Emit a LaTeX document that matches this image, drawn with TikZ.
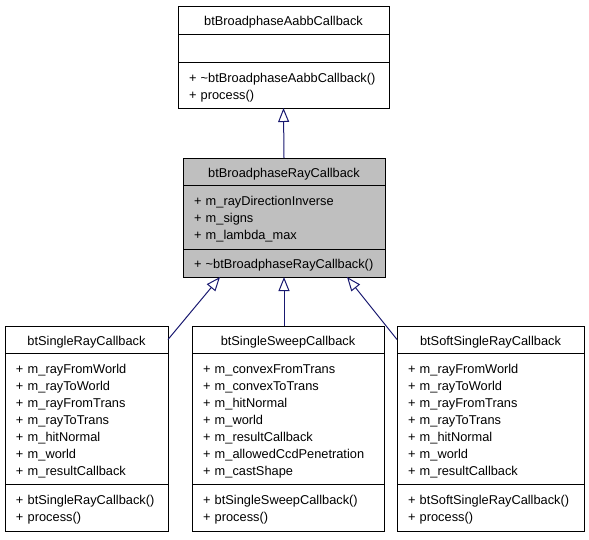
\documentclass[tikz,border=0pt]{standalone}
\usepackage{fontspec}
\setmainfont{Liberation Sans}
\usetikzlibrary{positioning,calc,arrows.meta}
\definecolor{edge}{HTML}{191970}
\definecolor{cur}{HTML}{BFBFBF}
\tikzset{
  part/.style={draw=black, line width=0.9pt, outer sep=0pt, inner xsep=11pt, inner ysep=0pt,
    font=\fontsize{12.8}{17}\selectfont,
    execute at begin node={\hyphenpenalty=10000\rule{0pt}{14.5pt}}},
  head/.style={part, align=center, minimum height=27pt},
  body/.style={part, align=left},
  inh/.style={draw=edge, line width=1pt, -{Triangle[open, length=14pt, width=11pt]}},
}

\begin{document}
\begin{tikzpicture}[x=1pt, y=-1pt]
  \useasboundingbox (0,0) rectangle (589,539);

  % base class
  \node[head, anchor=north west, text width=189pt, minimum height=28pt] (aabbT) at (178,6) {btBroadphaseAabbCallback};
  \node[body, text width=189pt, minimum height=28pt, below=0pt of aabbT] (aabbA) {};
  \node[body, text width=189pt, minimum height=46pt, below=0pt of aabbA] (aabbM)
    {+~\textasciitilde btBroadphaseAabbCallback()\\+~process()};

  % current class
  \node[head, anchor=north west, fill=cur, text width=180pt] (rayT) at (183,158) {btBroadphaseRayCallback};
  \node[body, fill=cur, text width=180pt, minimum height=64pt, below=0pt of rayT] (rayA)
    {+~m\_rayDirectionInverse\\+~m\_signs\\+~m\_lambda\_max};
  \node[body, fill=cur, text width=180pt, minimum height=28pt, below=0pt of rayA] (rayM)
    {+~\textasciitilde btBroadphaseRayCallback()};

  % derived classes
  \node[head, anchor=north west, text width=141pt] (singleT) at (5,326) {btSingleRayCallback};
  \node[body, text width=141pt, minimum height=131pt, below=0pt of singleT] (singleA)
    {+~m\_rayFromWorld\\+~m\_rayToWorld\\+~m\_rayFromTrans\\+~m\_rayToTrans\\+~m\_hitNormal\\+~m\_world\\+~m\_resultCallback};
  \node[body, text width=141pt, minimum height=47pt, below=0pt of singleA] (singleM)
    {+~btSingleRayCallback()\\+~process()};

  \node[head, anchor=north west, text width=170pt] (sweepT) at (192,326) {btSingleSweepCallback};
  \node[body, text width=170pt, minimum height=131pt, below=0pt of sweepT] (sweepA)
    {+~m\_convexFromTrans\\+~m\_convexToTrans\\+~m\_hitNormal\\+~m\_world\\+~m\_resultCallback\\+~m\_allowedCcdPenetration\\+~m\_castShape};
  \node[body, text width=170pt, minimum height=47pt, below=0pt of sweepA] (sweepM)
    {+~btSingleSweepCallback()\\+~process()};

  \node[head, anchor=north west, text width=165pt] (softT) at (397,326) {btSoftSingleRayCallback};
  \node[body, text width=165pt, minimum height=131pt, below=0pt of softT] (softA)
    {+~m\_rayFromWorld\\+~m\_rayToWorld\\+~m\_rayFromTrans\\+~m\_rayToTrans\\+~m\_hitNormal\\+~m\_world\\+~m\_resultCallback};
  \node[body, text width=165pt, minimum height=47pt, below=0pt of softA] (softM)
    {+~btSoftSingleRayCallback()\\+~process()};

  % inheritance
  \coordinate (rayL) at ($(rayM.south)+(-64,0)$);
  \coordinate (rayR) at ($(rayM.south)+(63,0)$);
  \draw[inh] (rayT.north) -- (aabbM.south);
  \draw[inh] (singleT.east) -- (rayL);
  \draw[inh] (sweepT.north -| rayM.south) -- (rayM.south);
  \draw[inh] (softT.west) -- (rayR);
\end{tikzpicture}
\end{document}
